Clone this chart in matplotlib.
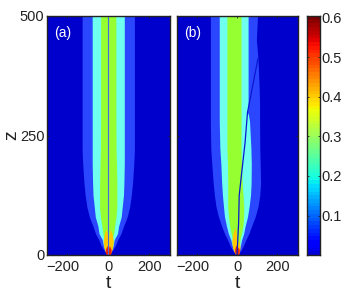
import matplotlib
matplotlib.use('Agg')
import matplotlib.pyplot as plt
from matplotlib.transforms import ScaledTranslation
import numpy as np

plt.rcParams['font.family'] = ['Liberation Sans', 'DejaVu Sans']

W, H = 346, 294

c_bg = '#0000cd'
c_blue = '#2a46ff'
c_cyan = '#6effee'
c_green = '#96ff32'
c_orange = '#ffc800'
c_red = '#f02000'

# panel (a): half width of each contour band against z
z_a = [0, 4, 10, 20, 32, 45, 60, 80, 101, 125, 150, 190, 220, 300, 500]
outer_a = [0, 9, 21, 35, 46, 62, 74, 92, 104, 112, 118, 124, 127, 127, 127]
cyan_a = [0, 6, 16, 24, 29, 45, 50, 63, 68, 74, 76, 78, 78, 78, 78]
green_a = [0, 4, 9, 14, 18, 26, 31, 38, 42, 42, 42, 40, 38, 37, 37]

# orange and red lobes either side of the centre line, panel (a)
flame_z_a = [0, 5, 15, 30, 45, 54]
flame_in_a = [1, 1, 1, 1, 5, 10]
flame_out_a = [6, 13, 21, 25, 18, 10]
red_z_a = [0, 5, 12, 20]
red_in_a = [1, 1, 1, 5]
red_out_a = [6, 14, 14, 5]

# panel (b): left and right edges of the bands
z_b = [0, 4, 10, 20, 32, 45, 60, 80, 101, 125, 150, 190, 223, 280, 293, 298, 315, 350, 411, 450, 500]
outer_l = [0, -9, -22, -35, -47, -62, -76, -92, -104, -112, -118, -125, -130, -132, -132, -132, -132, -132, -132, -132, -132]
outer_r = [0, 8, 20, 32, 44, 59, 72, 90, 104, 113, 117, 115, 113, 112, 112, 112, 112, 110, 104, 96, 102]
cyan_l = [0, -6, -16, -24, -31, -43, -52, -62, -67, -72, -76, -80, -85, -88, -88, -88, -88, -88, -88, -88, -88]
cyan_r = [0, 4, 10, 17, 23, 33, 40, 52, 60, 67, 70, 71, 69, 62, 57, 52, 55, 55, 55, 55, 55]
green_l = [0, -4, -9, -15, -21, -29, -36, -42, -46, -46, -46, -47, -50, -50, -50, -50, -50, -50, -50, -50, -50]
green_r = [0, 2, 5, 10, 15, 22, 29, 33, 34, 30, 26, 22, 20, 20, 20, 20, 20, 20, 20, 20, 20]

flame_z_b = [0, 5, 15, 30, 45, 58]
flame_l_b = [-5, -13, -22, -26, -20, -10]
flame_r_b = [-1, 0, 0, -2, -4, -10]
flame2_z_b = [0, 5, 15, 25, 32]
flame2_l_b = [1, 1, 2, 5, 8]
flame2_r_b = [5, 11, 15, 13, 8]
red_z_b = [0, 5, 12, 20]
red_l_b = [-4, -11, -12, -6]
red_r_b = [-1, 0, 0, -3]
red2_z_b = [0, 5, 12, 17]
red2_l_b = [1, 1, 1, 5]
red2_r_b = [5, 11, 11, 5]

# dark trace in panel (b)
line_z_b = [0, 67, 125, 175, 235, 298, 350, 411]
line_t_b = [0, 8, 11, 24, 40, 52, 76, 104]

t_ticks = [-200, 0, 200]
t_labels = ['\u2212200', '0', '200']
z_ticks = [0, 250, 500]
cb_ticks = [0.1, 0.2, 0.3, 0.4, 0.5, 0.6]


def box(l, t, r, b):
    return [l / W, 1 - b / H, (r - l) / W, (b - t) / H]


def style(ax):
    ax.set_xlim(-300, 300)
    ax.set_ylim(0, 500)
    ax.set_facecolor(c_bg)
    ax.set_xticks(t_ticks)
    ax.set_xticklabels(t_labels)
    ax.set_yticks(z_ticks)
    ax.tick_params(direction='in', length=1.5, width=0.6, top=True, right=True,
                   labelsize=10.5, pad=1.5, color='#222222', labelcolor='#222222')
    ax.tick_params(axis='x', pad=3.5)
    for s in ax.spines.values():
        s.set_linewidth(1.0)
        s.set_color('#222222')
    ax.set_xlabel('t', fontsize=14, labelpad=0.5, color='#222222')
    # the digits sit on the tick, the minus hangs to the left
    lab = ax.get_xticklabels()[0]
    lab.set_ha('right')
    lab.set_transform(lab.get_transform() + ScaledTranslation(12.5 / 100, 0, ax.figure.dpi_scale_trans))


fig = plt.figure(figsize=(W / 100, H / 100), dpi=100)

ax1 = fig.add_axes(box(46.5, 16, 170, 255))
style(ax1)
for hw, c in [(outer_a, c_blue), (cyan_a, c_cyan), (green_a, c_green)]:
    ax1.fill_betweenx(z_a, -np.array(hw), hw, color=c, lw=0)
for sgn in (-1, 1):
    ax1.fill_betweenx(flame_z_a, sgn * np.array(flame_in_a), sgn * np.array(flame_out_a), color=c_orange, lw=0)
    ax1.fill_betweenx(red_z_a, sgn * np.array(red_in_a), sgn * np.array(red_out_a), color=c_red, lw=0)
ax1.plot([0, 0], [0, 500], color='#4a68e0', lw=0.8)
ax1.set_ylabel('z', fontsize=14, labelpad=0, color='#222222')
ax1.text(0.06, 0.93, '(a)', transform=ax1.transAxes, color='white', fontsize=10, va='center')

ax2 = fig.add_axes(box(176.5, 16, 297.5, 255))
style(ax2)
ax2.set_yticklabels([])
ax2.fill_betweenx(z_b, outer_l, outer_r, color=c_blue, lw=0)
ax2.fill_betweenx(z_b, cyan_l, cyan_r, color=c_cyan, lw=0)
ax2.fill_betweenx(z_b, green_l, green_r, color=c_green, lw=0)
ax2.fill_betweenx(flame_z_b, flame_l_b, flame_r_b, color=c_orange, lw=0)
ax2.fill_betweenx(flame2_z_b, flame2_l_b, flame2_r_b, color=c_orange, lw=0)
ax2.fill_betweenx(red_z_b, red_l_b, red_r_b, color=c_red, lw=0)
ax2.fill_betweenx(red2_z_b, red2_l_b, red2_r_b, color=c_red, lw=0)
ax2.plot(line_t_b, line_z_b, color='#0a18d0', lw=0.9)
ax2.text(0.06, 0.93, '(b)', transform=ax2.transAxes, color='white', fontsize=10, va='center')

cax = fig.add_axes(box(307, 16, 319.5, 255))
grad = np.linspace(0.08, 1, 64).reshape(-1, 1)
cax.imshow(grad, cmap='jet', vmin=0, vmax=1, origin='lower', aspect='auto',
           extent=[0, 1, 0.0005, 0.604], interpolation='nearest')
cax.set_xticks([])
cax.yaxis.tick_right()
cax.set_yticks(cb_ticks)
cax.set_yticklabels(['%.1f' % v for v in cb_ticks])
cax.tick_params(direction='in', length=1.5, width=0.6, left=True, right=True,
                labelsize=10.5, pad=1.5, color='#222222', labelcolor='#222222')
for s in cax.spines.values():
    s.set_linewidth(1.0)
    s.set_color('#222222')

fig.savefig('out.png', dpi=100)
